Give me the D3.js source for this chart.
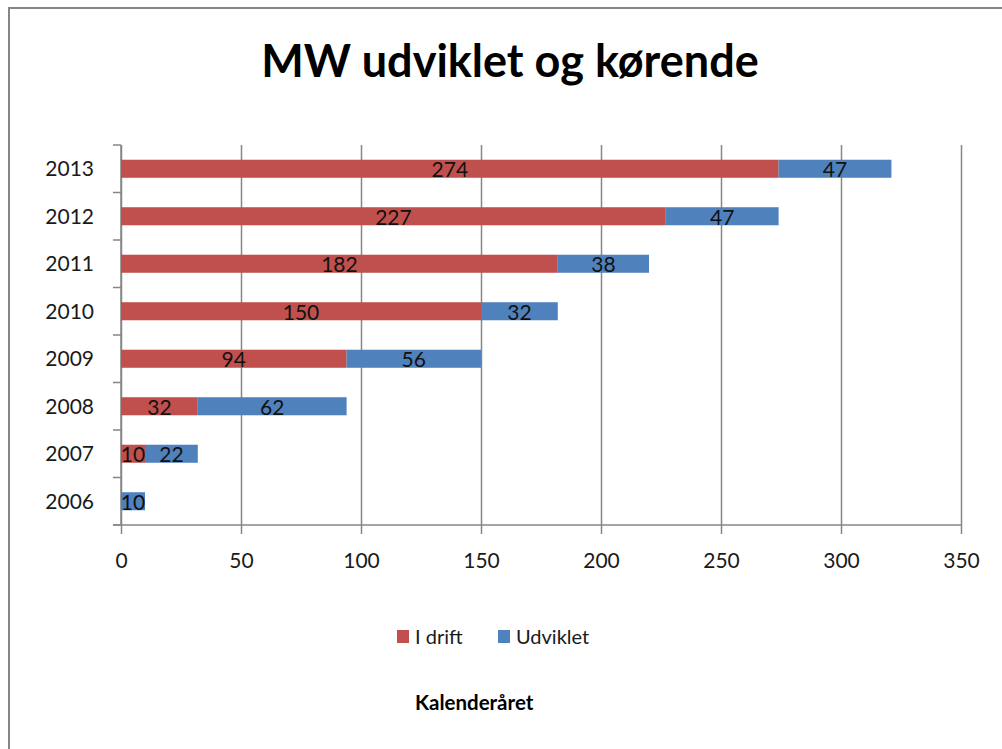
<!DOCTYPE html>
<html>
<head>
<meta charset="utf-8">
<script src="https://cdn.jsdelivr.net/npm/d3@7"></script>
<style>
    body { margin: 0; background: #fff; }
    text { font-family: Lato, "Open Sans", sans-serif; fill: #1a1a1a; }
    .axis path, .axis line { stroke: #868686; stroke-width: 1.5; }
    .grid line { stroke: #868686; stroke-width: 1.5; }
    .grid path { display: none; }
</style>
</head>
<body>
<div id="chart"></div>
<script>
// data
var years = ["2006", "2007", "2008", "2009", "2010", "2011", "2012", "2013"];
var iDrift = [0, 10, 32, 94, 150, 182, 227, 274];
var udviklet = [10, 22, 62, 56, 32, 38, 47, 47];
var xTicks = [0, 50, 100, 150, 200, 250, 300, 350];
var seriesNames = ["I drift", "Udviklet"];
var seriesColors = ["#C0504D", "#4F81BD"];

var svgWidth = 1002;
var svgHeight = 749;

var margin = { top: 145, right: 41, bottom: 224, left: 121 };
var width = svgWidth - margin.left - margin.right;
var height = svgHeight - margin.top - margin.bottom;

var svg = d3.select("#chart")
    .append("svg")
    .attr("width", svgWidth)
    .attr("height", svgHeight);

// outer frame
svg.append("rect")
    .attr("x", 9)
    .attr("y", 8)
    .attr("width", 1000)
    .attr("height", 800)
    .attr("fill", "none")
    .attr("stroke", "#868686")
    .attr("stroke-width", 2);

// title
svg.append("text")
    .attr("x", 510)
    .attr("y", 77)
    .attr("text-anchor", "middle")
    .style("font-size", "45px")
    .style("font-weight", "bold")
    .style("fill", "#000")
    .text("MW udviklet og kørende");

var chartGroup = svg.append("g")
    .attr("transform", `translate(${margin.left}, ${margin.top})`);

// build stacked rows
var rows = years.map(function (y, i) {
    return { year: y, "I drift": iDrift[i], "Udviklet": udviklet[i] };
});
var stacked = d3.stack().keys(seriesNames)(rows);

// scales
var xScale = d3.scaleLinear()
    .domain([0, 350])
    .range([0, width]);

var yScale = d3.scaleBand()
    .domain(years.slice().reverse())
    .range([0, height])
    .paddingInner(0.62)
    .paddingOuter(0.31);

// gridlines
chartGroup.append("g")
    .attr("class", "grid")
    .call(d3.axisTop(xScale).tickValues(xTicks).tickSize(-height).tickFormat(""));

// x axis
var bottomAxis = d3.axisBottom(xScale)
    .tickValues(xTicks)
    .tickSize(9)
    .tickSizeOuter(0)
    .tickPadding(14);

var xAxisG = chartGroup.append("g")
    .attr("class", "axis")
    .attr("transform", `translate(0, ${height})`)
    .call(bottomAxis);
xAxisG.select(".domain").attr("d", `M-8,0H${width}`);
xAxisG.selectAll("text").style("font-size", "21px").attr("dy", "0.35em").attr("y", 36);

// y axis with ticks between categories
var leftAxis = chartGroup.append("g")
    .attr("class", "axis");
leftAxis.append("line")
    .attr("x1", 0).attr("x2", 0)
    .attr("y1", 0).attr("y2", height);
leftAxis.selectAll(".tick-b")
    .data(d3.range(years.length + 1))
    .enter()
    .append("line")
    .attr("x1", -8).attr("x2", 0)
    .attr("y1", d => d * yScale.step())
    .attr("y2", d => d * yScale.step());
leftAxis.selectAll(".ylab")
    .data(years)
    .enter()
    .append("text")
    .attr("x", -27)
    .attr("y", d => yScale(d) + yScale.bandwidth() / 2)
    .attr("dy", "0.35em")
    .attr("text-anchor", "end")
    .style("font-size", "21px")
    .text(d => d);

// bars
var layers = chartGroup.selectAll(".layer")
    .data(stacked)
    .enter()
    .append("g")
    .attr("fill", (d, i) => seriesColors[i]);

layers.selectAll("rect")
    .data(d => d)
    .enter()
    .append("rect")
    .attr("x", d => xScale(d[0]))
    .attr("y", d => yScale(d.data.year))
    .attr("width", d => xScale(d[1]) - xScale(d[0]))
    .attr("height", yScale.bandwidth());

// value labels
layers.selectAll("text")
    .data(d => d.filter(p => p[1] - p[0] > 0))
    .enter()
    .append("text")
    .attr("x", d => xScale((d[0] + d[1]) / 2))
    .attr("y", d => yScale(d.data.year) + yScale.bandwidth() / 2)
    .attr("dy", "0.4em")
    .attr("text-anchor", "middle")
    .style("font-size", "21px")
    .style("fill", "#111")
    .text(d => d[1] - d[0]);

// legend
var legend = svg.append("g")
    .attr("transform", "translate(397, 637)");
var legendX = [0, 101];
seriesNames.forEach(function (name, i) {
    legend.append("rect")
        .attr("x", legendX[i])
        .attr("y", -7)
        .attr("width", 12)
        .attr("height", 13)
        .attr("fill", seriesColors[i]);
    legend.append("text")
        .attr("x", legendX[i] + 18)
        .attr("y", 0)
        .attr("dy", "0.35em")
        .style("font-size", "20px")
        .text(name);
});

// axis title
svg.append("text")
    .attr("x", 415)
    .attr("y", 703)
    .attr("dy", "0.35em")
    .style("font-size", "20.5px")
    .style("font-weight", "bold")
    .style("fill", "#000")
    .text("Kalenderåret");
</script>
</body>
</html>
